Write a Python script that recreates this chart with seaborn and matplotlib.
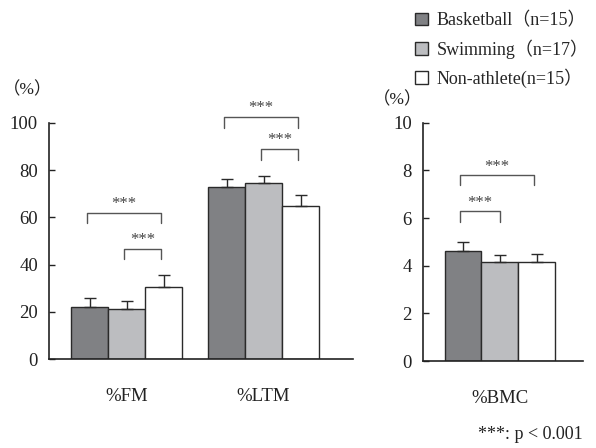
import matplotlib
matplotlib.use("Agg")
import matplotlib.pyplot as plt
import seaborn as sns
import pandas as pd
import numpy as np

groups = ["Basketball（n=15）", "Swimming（n=17）", "Non-athlete(n=15）"]
colors = ["#808184", "#bcbdc0", "#ffffff"]

left_cats = ["%FM", "%LTM"]
fm_mean = [22.2, 21.3, 30.6]
fm_sd = [3.5, 3.1, 5.1]
ltm_mean = [72.7, 74.7, 64.8]
ltm_sd = [3.6, 3.0, 4.5]

right_cats = ["%BMC"]
bmc_mean = [4.63, 4.14, 4.14]
bmc_sd = [0.35, 0.30, 0.34]

sns.set_theme(style="white")
plt.rcParams["font.family"] = ["Liberation Serif", "Noto Sans CJK JP"]
plt.rcParams["axes.linewidth"] = 1.2

W, H = 596, 448
fig = plt.figure(figsize=(W / 100, H / 100), dpi=100)

def frac_rect(x0, x1, y_bottom, y_top):
    return [x0 / W, 1 - y_bottom / H, (x1 - x0) / W, (y_bottom - y_top) / H]

axL = fig.add_axes(frac_rect(49, 353, 359, 123))
axR = fig.add_axes(frac_rect(423, 583, 361, 122.7))

dfL = pd.DataFrame({
    "cat": [left_cats[0]] * 3 + [left_cats[1]] * 3,
    "group": groups * 2,
    "val": fm_mean + ltm_mean,
})
dfR = pd.DataFrame({"cat": right_cats * 3, "group": groups, "val": bmc_mean})

handles, labels = None, None
for ax, df, sds in [(axL, dfL, [fm_sd, ltm_sd]), (axR, dfR, [bmc_sd])]:
    sns.barplot(data=df, x="cat", y="val", hue="group", hue_order=groups,
                palette=colors, width=0.81, errorbar=None, ax=ax,
                edgecolor="#2a2a2a", linewidth=1.0, saturation=1)
    bar_conts = list(ax.containers)
    for gi, cont in enumerate(bar_conts):
        for ci, patch in enumerate(cont.patches):
            xc = patch.get_x() + patch.get_width() / 2
            top = patch.get_height()
            ax.errorbar([xc], [top], yerr=[[0], [sds[ci][gi]]], fmt="none",
                        ecolor="#2a2a2a", elinewidth=1.0, capsize=4, capthick=1.0)
    if ax.get_legend() is not None:
        if handles is None:
            handles, labels = ax.get_legend_handles_labels()
        ax.get_legend().remove()

for ax in (axL, axR):
    sns.despine(ax=ax)
    ax.set_xlabel("")
    ax.set_ylabel("")
    ax.tick_params(axis="y", direction="in", length=4, width=1.0, labelsize=13.5,
                   left=True, pad=8, colors="#222222")
    ax.tick_params(axis="x", length=0, labelsize=13.5, pad=21, colors="#222222")
    for s in ax.spines.values():
        s.set_color("#222222")

axL.set_ylim(0, 100)
axL.set_yticks([0, 20, 40, 60, 80, 100])
axL.set_xlim(-0.566, 1.653)
axR.set_ylim(0, 10)
axR.set_yticks([0, 2, 4, 6, 8, 10])
axR.set_xlim(-0.562, 0.606)

bw = 0.27
def bracket(ax, x1, x2, y, drop, text_h):
    ax.plot([x1, x1, x2, x2], [y - drop, y, y, y - drop], color="#555555",
            lw=1.0, clip_on=False)
    ax.text((x1 + x2) / 2, y + text_h, "***", ha="center", va="bottom",
            fontsize=12, color="#444444", clip_on=False)

# FM brackets
bracket(axL, -bw - 0.02, bw - 0.02, 62.0, 4.4, 0.3)
bracket(axL, -0.02, bw - 0.02, 46.7, 4.3, 0.3)
# LTM brackets
bracket(axL, 1 - bw - 0.02, 1 + bw - 0.02, 102.7, 4.8, 0.3)
bracket(axL, 1 - 0.02, 1 + bw - 0.02, 89.0, 4.7, 0.3)
# BMC brackets
bracket(axR, -bw - 0.02, bw - 0.02, 7.79, 0.42, 0.03)
bracket(axR, -bw - 0.02, 0.0, 6.28, 0.45, 0.03)

fig.text(3 / W, 1 - 90 / H, "（%）", fontsize=12.5, ha="left", va="center", color="#222222")
fig.text(373 / W, 1 - 100 / H, "（%）", fontsize=12.5, ha="left", va="center", color="#222222")

fig.legend(handles, labels, loc="upper left", bbox_to_anchor=(415 / W, 1 - 12 / H),
           frameon=False, fontsize=13, handlelength=0.7, handleheight=0.7,
           handletextpad=0.5, labelspacing=0.55, borderaxespad=0, borderpad=0)

fig.text(583 / W, 1 - 434 / H, "***: p < 0.001", fontsize=13, ha="right",
         va="center", color="#222222")

fig.savefig("out.png", dpi=100)
